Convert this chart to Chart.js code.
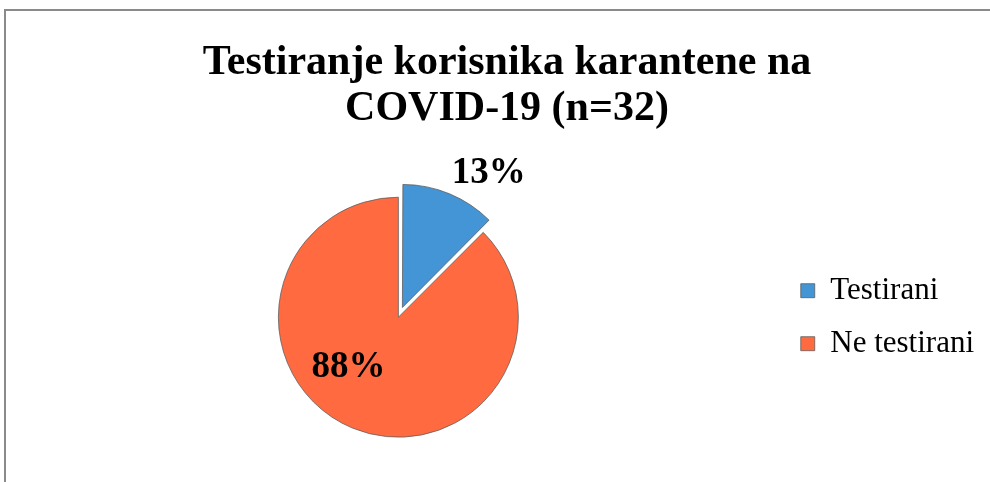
<!DOCTYPE html>
<html>
<head>
<meta charset="utf-8">
<script src="https://cdn.jsdelivr.net/npm/chart.js@4"></script>
<style>
  body { margin: 0; background: #fff; }
  #wrap { position: relative; width: 990px; height: 482px; overflow: hidden; }
  #frame { position: absolute; left: 4px; top: 9px; width: 1100px; height: 600px;
           border-left: 2px solid #8a8a8a; border-top: 2px solid #8a8a8a; }
  canvas { position: absolute; left: 0; top: 0; }
</style>
</head>
<body>
<div id="wrap">
  <div id="frame"></div>
  <canvas id="pie" width="990" height="482"></canvas>
</div>
<script>
// categories and counts (n = 32)
const categories = ["Testirani", "Ne testirani"];
const counts = [4, 28];
const percentLabels = ["13%", "88%"];
const sliceColors = ["#4395d5", "#ff6a40"];

// where each percent label sits: fraction along the slice angle, distance as share of radius
const labelPlace = [
    { along: 0.715, dist: 1.414 },
    { along: 0.570, dist: 0.593 }
];

const pctLabels = {
    id: 'pctLabels',
    afterDatasetsDraw(chart) {
        const ctx = chart.ctx;
        const arcs = chart.getDatasetMeta(0).data;
        ctx.save();
        ctx.font = 'bold 37px "Liberation Serif"';
        ctx.fillStyle = '#000';
        ctx.textAlign = 'center';
        ctx.textBaseline = 'middle';
        arcs.forEach((arc, i) => {
            const p = labelPlace[i];
            const a = arc.startAngle + (arc.endAngle - arc.startAngle) * p.along;
            const d = arc.outerRadius * p.dist;
            ctx.fillText(percentLabels[i], arc.x + Math.cos(a) * d, arc.y + Math.sin(a) * d);
        });
        ctx.restore();
    }
};

// empty box between pie and legend, so the title can stay centred on the frame
const spacer = {
    id: 'spacer',
    beforeInit(chart) {
        Chart.layouts.addBox(chart, {
            position: 'right',
            weight: 0,
            fullSize: false,
            options: {},
            isHorizontal() { return false; },
            update(maxWidth, maxHeight) { this.width = 12; this.height = maxHeight; },
            draw() {}
        });
    }
};

const chart = new Chart(document.getElementById("pie"), {
    type: 'pie',
    data: {
        labels: categories,
        datasets: [{
            data: counts,
            backgroundColor: sliceColors,
            borderColor: 'rgba(90,90,90,0.75)',
            borderWidth: 1,
            offset: [42, 0]
        }]
    },
    options: {
        responsive: false,
        animation: false,
        radius: 120,
        layout: { padding: { left: 30, right: 6, top: 0, bottom: 0 } },
        plugins: {
            title: {
                display: true,
                text: ["Testiranje korisnika karantene na", "COVID-19 (n=32)"],
                color: '#000',
                font: { family: 'Liberation Serif', size: 42, weight: 'bold', lineHeight: 1.1 },
                padding: { top: 40, bottom: 20 }
            },
            legend: {
                position: 'right',
                fullSize: false,
                labels: {
                    color: '#000',
                    font: { family: 'Liberation Serif', size: 31 },
                    boxWidth: 14,
                    boxHeight: 14,
                    padding: 22
                }
            },
            tooltip: { enabled: false }
        }
    },
    plugins: [pctLabels, spacer]
});
</script>
</body>
</html>
